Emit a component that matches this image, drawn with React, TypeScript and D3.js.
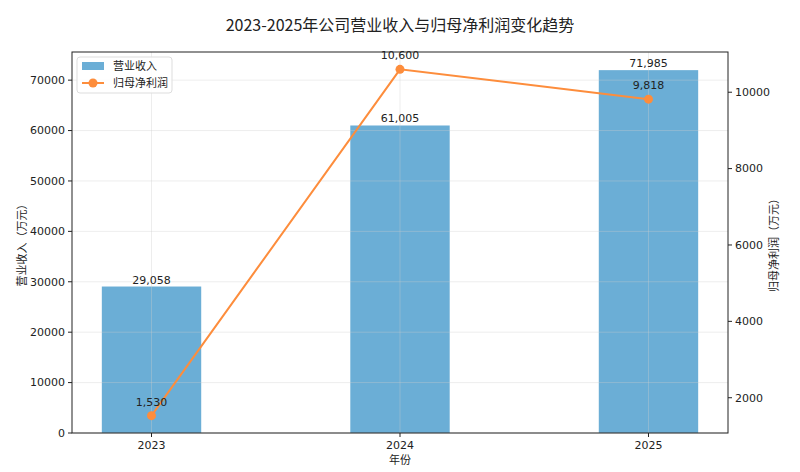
import * as d3 from "d3";

const years = ["2023", "2024", "2025"];
const revenue = [29058, 61005, 71985];
const profit = [1530, 10600, 9818];
const leftTicks = [0, 10000, 20000, 30000, 40000, 50000, 60000, 70000];
const rightTicks = [2000, 4000, 6000, 8000, 10000];

const W = 800;
const H = 472;
const M = { left: 72, right: 72, top: 52, bottom: 39 };
const FONT = "'DejaVu Sans', 'Noto Sans CJK SC', sans-serif";
const CJK = "'Noto Sans CJK SC', 'DejaVu Sans', sans-serif";
const BAR = "#6baed6";
const LINE = "#fd8d3c";

const App = () => {
    const innerW = W - M.left - M.right;
    const x0 = M.left;
    const x1 = W - M.right;
    const y0 = H - M.bottom;
    const y1 = M.top;

    // positions like matplotlib: bars at 0..2, width 0.4, 5% margins
    const x = d3.scaleLinear().domain([-0.32, 2.32]).range([x0, x1]);
    const bw = x(0.4) - x(0);

    const yL = d3
        .scaleLinear()
        .domain([0, d3.max(revenue) * 1.05])
        .range([y0, y1]);
    const [pmin, pmax] = d3.extent(profit);
    const pad = (pmax - pmin) * 0.05;
    const yR = d3
        .scaleLinear()
        .domain([pmin - pad, pmax + pad])
        .range([y0, y1]);

    const line = d3
        .line()
        .x((d, i) => x(i))
        .y((d) => yR(d));

    const fmt = d3.format(",");

    return (
        <svg
            width={W}
            height={H}
            style={{ position: "absolute", left: 0, top: 0, background: "#fff" }}
        >
            <text
                x={W / 2}
                y={31}
                textAnchor="middle"
                fontFamily={CJK}
                fontSize={16}
                fill="#222"
            >
                2023-2025年公司营业收入与归母净利润变化趋势
            </text>

            {/* bars */}
            {revenue.map((v, i) => (
                <rect
                    key={`bar-${i}`}
                    x={x(i) - bw / 2}
                    y={yL(v)}
                    width={bw}
                    height={y0 - yL(v)}
                    fill={BAR}
                />
            ))}

            {/* grid */}
            <g stroke="#cccccc" strokeOpacity={0.45} strokeWidth={0.8}>
                {leftTicks.map((t) => (
                    <line key={`gy-${t}`} x1={x0} x2={x1} y1={yL(t)} y2={yL(t)} />
                ))}
                {years.map((yr, i) => (
                    <line key={`gx-${yr}`} x1={x(i)} x2={x(i)} y1={y1} y2={y0} />
                ))}
            </g>

            {/* bar labels */}
            {revenue.map((v, i) => (
                <text
                    key={`bl-${i}`}
                    x={x(i)}
                    y={yL(v) - 3}
                    textAnchor="middle"
                    fontFamily={FONT}
                    fontSize={11}
                    fill="#222"
                >
                    {fmt(v)}
                </text>
            ))}

            {/* profit line */}
            <path d={line(profit)} fill="none" stroke={LINE} strokeWidth={2} />
            {profit.map((v, i) => (
                <circle key={`pt-${i}`} cx={x(i)} cy={yR(v)} r={4.5} fill={LINE} />
            ))}
            {profit.map((v, i) => (
                <text
                    key={`pl-${i}`}
                    x={x(i)}
                    y={yR(v) - 10}
                    textAnchor="middle"
                    fontFamily={FONT}
                    fontSize={11}
                    fill="#222"
                >
                    {fmt(v)}
                </text>
            ))}

            {/* frame */}
            <rect
                x={x0}
                y={y1}
                width={innerW}
                height={y0 - y1}
                fill="none"
                stroke="#222"
                strokeWidth={1}
            />

            {/* left axis */}
            {leftTicks.map((t) => (
                <g key={`lt-${t}`}>
                    <line x1={x0 - 4} x2={x0} y1={yL(t)} y2={yL(t)} stroke="#222" />
                    <text
                        x={x0 - 7}
                        y={yL(t)}
                        dy="0.35em"
                        textAnchor="end"
                        fontFamily={FONT}
                        fontSize={11}
                        fill="#222"
                    >
                        {t}
                    </text>
                </g>
            ))}

            {/* right axis */}
            {rightTicks.map((t) => (
                <g key={`rt-${t}`}>
                    <line x1={x1} x2={x1 + 4} y1={yR(t)} y2={yR(t)} stroke="#222" />
                    <text
                        x={x1 + 7}
                        y={yR(t)}
                        dy="0.35em"
                        textAnchor="start"
                        fontFamily={FONT}
                        fontSize={11}
                        fill="#222"
                    >
                        {t}
                    </text>
                </g>
            ))}

            {/* x axis */}
            {years.map((yr, i) => (
                <g key={`xt-${yr}`}>
                    <line x1={x(i)} x2={x(i)} y1={y0} y2={y0 + 4} stroke="#222" />
                    <text
                        x={x(i)}
                        y={y0 + 16}
                        textAnchor="middle"
                        fontFamily={FONT}
                        fontSize={11}
                        fill="#222"
                    >
                        {yr}
                    </text>
                </g>
            ))}

            <text
                x={W / 2}
                y={H - 8}
                textAnchor="middle"
                fontFamily={CJK}
                fontSize={11}
                fill="#222"
            >
                年份
            </text>
            <text
                transform={`translate(26, ${(y0 + y1) / 2}) rotate(-90)`}
                textAnchor="middle"
                fontFamily={CJK}
                fontSize={11}
                fill="#222"
            >
                营业收入（万元）
            </text>
            <text
                transform={`translate(778, ${(y0 + y1) / 2}) rotate(-90)`}
                textAnchor="middle"
                fontFamily={CJK}
                fontSize={11}
                fill="#222"
            >
                归母净利润（万元）
            </text>

            {/* legend */}
            <g>
                <rect
                    x={77}
                    y={57}
                    width={95}
                    height={36}
                    rx={3}
                    fill="#fff"
                    fillOpacity={0.85}
                    stroke="#ddd"
                />
                <rect x={82} y={62} width={22} height={8} fill={BAR} />
                <text x={113} y={66} dy="0.35em" fontFamily={CJK} fontSize={11} fill="#222">
                    营业收入
                </text>
                <line x1={82} x2={104} y1={83} y2={83} stroke={LINE} strokeWidth={2} />
                <circle cx={93} cy={83} r={4.5} fill={LINE} />
                <text x={113} y={83} dy="0.35em" fontFamily={CJK} fontSize={11} fill="#222">
                    归母净利润
                </text>
            </g>
        </svg>
    );
};

export default App;
